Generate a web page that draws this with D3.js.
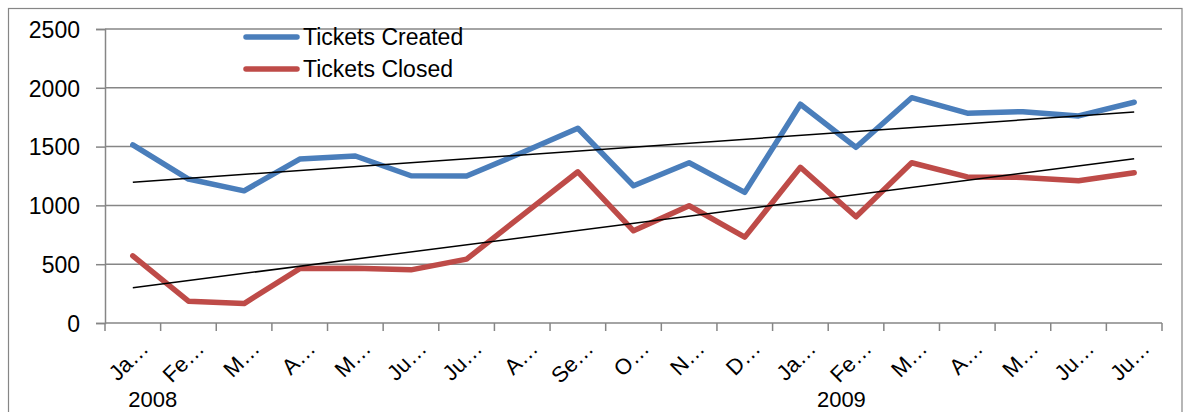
<!DOCTYPE html>
<html>
<head>
<meta charset="utf-8">
<script src="https://cdn.jsdelivr.net/npm/d3@7"></script>
<style>
  body { margin: 0; background: #fff; }
  svg text { font-family: "Liberation Sans", Arial, sans-serif; fill: #000; }
</style>
</head>
<body>
<div id="chart"></div>
<script>
// month labels (truncated as in the original)
var monthLabels = ["Ja…", "Fe…", "M…", "A…", "M…", "Ju…", "Ju…", "A…", "Se…", "O…", "N…", "D…",
                   "Ja…", "Fe…", "M…", "A…", "M…", "Ju…", "Ju…"];
var yearLabels = ["2008", "2009"];
var yearStart = [0, 12];
var ticketsCreated = [1514, 1224, 1124, 1394, 1420, 1252, 1250, 1450, 1656, 1167, 1363, 1111,
                      1860, 1494, 1916, 1784, 1797, 1761, 1877];
var ticketsClosed = [571, 185, 165, 463, 466, 452, 543, 915, 1286, 784, 997, 730,
                     1324, 903, 1363, 1242, 1238, 1210, 1278];
var yTicks = [0, 500, 1000, 1500, 2000, 2500];
var seriesNames = ["Tickets Created", "Tickets Closed"];
var seriesColors = ["#4A7EBB", "#BE4B48"];

var width = 1185, height = 412;
var plot = {left: 105, right: 1162, top: 29, bottom: 323};
var gridColor = "#868686";

var svg = d3.select("#chart").append("svg")
    .attr("width", width)
    .attr("height", height);

// outer chart frame
svg.append("rect")
    .attr("x", 8.5).attr("y", 8.5)
    .attr("width", 1182 - 8.5).attr("height", 420)
    .attr("fill", "none")
    .attr("stroke", gridColor)
    .attr("stroke-width", 1.2);

var idx = d3.range(monthLabels.length);
var x = d3.scaleBand().domain(idx).range([plot.left, plot.right]);
var y = d3.scaleLinear().domain([0, 2500]).range([plot.bottom, plot.top]);
var cx = function (i) { return x(i) + x.bandwidth() / 2; };

// y axis labels and ticks
var yAxis = svg.append("g")
    .attr("transform", "translate(" + plot.left + ",0)")
    .call(d3.axisLeft(y).tickValues(yTicks).tickSize(9).tickPadding(16).tickFormat(d3.format("d")));
yAxis.select(".domain").attr("stroke", gridColor).attr("stroke-width", 1.5);
yAxis.selectAll(".tick line").attr("stroke", gridColor).attr("stroke-width", 1.5);
yAxis.selectAll(".tick text")
    .attr("font-size", 23)
    .attr("font-family", "Liberation Sans, Arial, sans-serif")
    .attr("dy", "0.36em");

// horizontal gridlines
svg.append("g").selectAll("line")
    .data(yTicks.filter(function (d) { return d > 0; }))
    .enter().append("line")
    .attr("x1", plot.left).attr("x2", plot.right)
    .attr("y1", function (d) { return y(d); })
    .attr("y2", function (d) { return y(d); })
    .attr("stroke", gridColor)
    .attr("stroke-width", 1.5);

// x axis with ticks at band boundaries
var xAxis = svg.append("g");
xAxis.append("line")
    .attr("x1", plot.left).attr("x2", plot.right)
    .attr("y1", y(0)).attr("y2", y(0))
    .attr("stroke", gridColor).attr("stroke-width", 1.5);
xAxis.selectAll(".xtick")
    .data(d3.range(monthLabels.length + 1))
    .enter().append("line")
    .attr("class", "xtick")
    .attr("x1", function (i) { return plot.left + i * x.bandwidth(); })
    .attr("x2", function (i) { return plot.left + i * x.bandwidth(); })
    .attr("y1", y(0)).attr("y2", y(0) + 8)
    .attr("stroke", gridColor).attr("stroke-width", 1.5);

xAxis.selectAll(".xlabel")
    .data(idx)
    .enter().append("text")
    .attr("class", "xlabel")
    .attr("transform", function (i) { return "translate(" + (cx(i) + 17) + "," + (y(0) + 27) + ") rotate(-45)"; })
    .attr("text-anchor", "end")
    .attr("font-size", 22)
    .text(function (i) { return monthLabels[i]; });

// year labels
svg.selectAll(".year")
    .data(yearLabels)
    .enter().append("text")
    .attr("class", "year")
    .attr("x", function (d, k) { return cx(yearStart[k]) + (k === 0 ? 20 : 41); })
    .attr("y", 407)
    .attr("text-anchor", "middle")
    .attr("font-size", 22)
    .text(function (d) { return d; });

// series lines
var line = d3.line()
    .x(function (d, i) { return cx(i); })
    .y(function (d) { return y(d); });

[ticketsCreated, ticketsClosed].forEach(function (values, s) {
    svg.append("path")
        .datum(values)
        .attr("d", line)
        .attr("fill", "none")
        .attr("stroke", seriesColors[s])
        .attr("stroke-width", 5.5)
        .attr("stroke-linejoin", "round")
        .attr("stroke-linecap", "round");
});

// linear trendlines (least squares over category index)
[ticketsCreated, ticketsClosed].forEach(function (values) {
    var n = values.length;
    var mx = d3.mean(idx), my = d3.mean(values);
    var num = d3.sum(idx, function (i) { return (i - mx) * (values[i] - my); });
    var den = d3.sum(idx, function (i) { return (i - mx) * (i - mx); });
    var slope = num / den, icpt = my - slope * mx;
    svg.append("line")
        .attr("x1", cx(0)).attr("y1", y(icpt))
        .attr("x2", cx(n - 1)).attr("y2", y(icpt + slope * (n - 1)))
        .attr("stroke", "#000")
        .attr("stroke-width", 1.5);
});

// legend
var legend = svg.append("g");
seriesNames.forEach(function (name, s) {
    var ly = 37 + s * 32;
    legend.append("line")
        .attr("x1", 246).attr("x2", 297)
        .attr("y1", ly).attr("y2", ly)
        .attr("stroke", seriesColors[s])
        .attr("stroke-width", 5.5)
        .attr("stroke-linecap", "round");
    legend.append("text")
        .attr("x", 303).attr("y", ly + 8)
        .attr("font-size", 23)
        .text(name);
});
</script>
</body>
</html>
